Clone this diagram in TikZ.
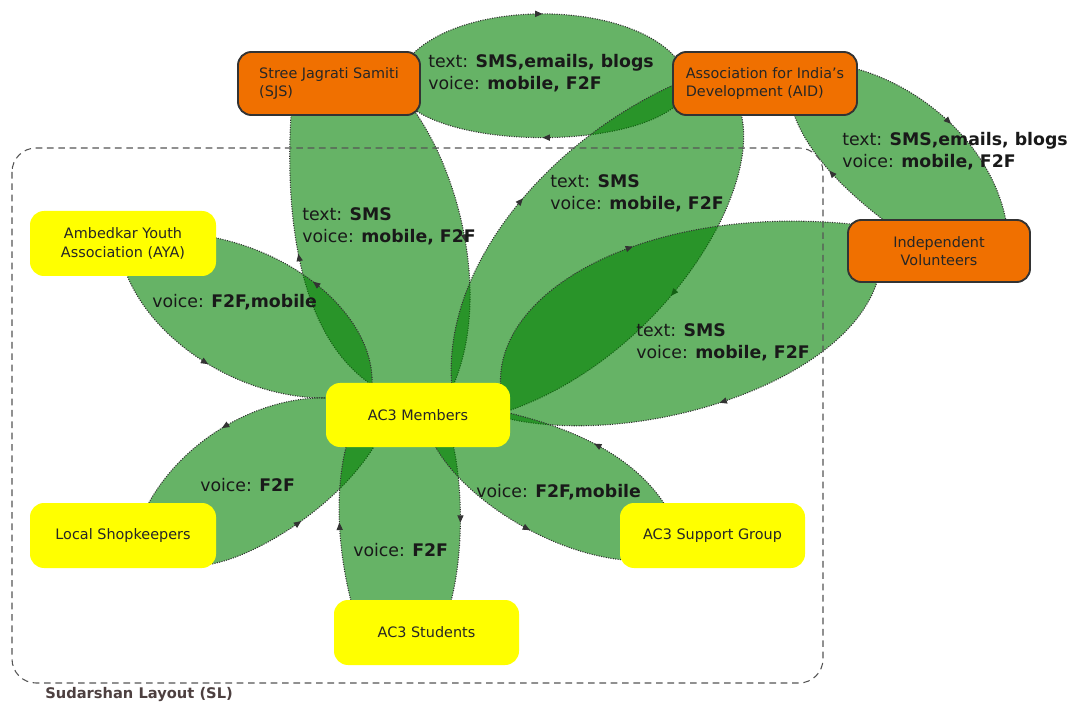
\documentclass[tikz,border=0pt]{standalone}
\usepackage{fontspec}
\setmainfont{DejaVu Sans}
\usetikzlibrary{calc,arrows.meta,decorations.markings}
\definecolor{orng}{HTML}{F07000}
\definecolor{yel}{HTML}{FFFF00}
\definecolor{petalgreen}{HTML}{008000}
\definecolor{edgec}{HTML}{333333}
\definecolor{framec}{HTML}{555555}
\definecolor{slc}{HTML}{4D4040}
\newcommand\boxtextfont{\fontsize{10.8}{14}\selectfont}
\newcommand\petaltextfont{\fontsize{13}{16.5}\selectfont}
\pgfdeclarelayer{bg}
\pgfsetlayers{bg,main}
\tikzset{
  orgbox/.style={draw=edgec, line width=1.4pt, fill=orng, rounded corners=10pt,
    inner sep=0pt, font=\boxtextfont, text=black!85},
  yelbox/.style={fill=yel, rounded corners=10.5pt, inner sep=0pt,
    font=\boxtextfont, text=black!85, align=center},
  petalfill/.style={fill=petalgreen, fill opacity=0.6},
  petaledge/.style={draw=edgec, line width=0.8pt, densely dotted,
    postaction={decorate},
    decoration={markings, mark=at position 0.5 with {\arrow{Triangle[length=5.5pt,width=4.6pt]}}}},
  lbl/.style={anchor=west, align=left, inner sep=0pt, font=\petaltextfont, text=black!90},
  frame/.style={draw=framec, line width=0.8pt, dash pattern=on 5pt off 3.5pt, rounded corners=18pt},
}
% petal: arc 1 (#1 -> #4, controls #2 #3), arc 2 (#5 -> #8, controls #6 #7)
\newcommand\petal[8]{%
  \fill[petalfill] #1 .. controls #2 and #3 .. #4 -- #5 .. controls #6 and #7 .. #8 -- cycle;
  \draw[petaledge] #1 .. controls #2 and #3 .. #4;
  \draw[petaledge] #5 .. controls #6 and #7 .. #8;
}
\begin{document}
\begin{tikzpicture}[x=0.75pt,y=-0.75pt]
\useasboundingbox (0,0) rectangle (1076,706);

% nodes
\node[orgbox, minimum width=136.5pt, minimum height=47.25pt, align=left] (sjs) at (329,83.5)
  {Stree Jagrati Samiti\\(SJS)};
\node[orgbox, minimum width=138pt, minimum height=47.25pt, align=left] (aid) at (765,83.5)
  {Association for India's\\Development (AID)};
\node[orgbox, minimum width=136.5pt, minimum height=46.5pt, align=center] (iv) at (939,251)
  {Independent\\Volunteers};
\node[yelbox, minimum width=139.5pt, minimum height=48.75pt] (aya) at (123,243.5)
  {Ambedkar Youth\\Association (AYA)};
\node[yelbox, minimum width=138pt, minimum height=48pt] (acm) at (418,415) {AC3 Members};
\node[yelbox, minimum width=139.5pt, minimum height=48.75pt] (ls) at (123,535.5) {Local Shopkeepers};
\node[yelbox, minimum width=138.75pt, minimum height=48.75pt] (sg) at (712.5,535.5) {AC3 Support Group};
\node[yelbox, minimum width=138.75pt, minimum height=48.75pt] (st) at (426.5,632.5) {AC3 Students};

\begin{pgfonlayer}{bg}
% SJS <-> AID
\petal{($(sjs)+(66,2)$)}{(415,-10)}{(670,-10)}{($(aid)+(-75,2)$)}
      {($(aid)+(-75,2)$)}{(670,155)}{(415,155)}{($(sjs)+(66,2)$)}
% SJS <-> AC3 Members
\petal{($(sjs)+(81,21.5)$)}{(460,170)}{(492,300)}{($(acm)+(34,-27)$)}
      {($(acm)+(-46,-30)$)}{(290,330)}{(285,190)}{($(sjs)+(-37,16.5)$)}
% AID <-> AC3 Members
\petal{($(aid)+(-25,26.5)$)}{(765,190)}{(660,360)}{($(acm)+(87,-3)$)}
      {($(acm)+(34,-27)$)}{(440,260)}{(560,130)}{($(aid)+(-75,-5.5)$)}
% AC3 Members <-> Independent Volunteers
\petal{($(acm)+(87,-5)$)}{(470,300)}{(640,200)}{($(iv)+(-79,-26)$)}
      {($(iv)+(-59,19)$)}{(860,380)}{(640,450)}{($(acm)+(87,3)$)}
% AID <-> Independent Volunteers
\petal{($(aid)+(75,-18.5)$)}{(920,80)}{(1000,150)}{($(iv)+(69,-16)$)}
      {($(iv)+(-49,-26)$)}{(850,195)}{(800,150)}{($(aid)+(25,16.5)$)}
% AYA <-> AC3 Members
\petal{($(aya)+(2,26.5)$)}{(150,340)}{(240,400)}{($(acm)+(-88,-17)$)}
      {($(acm)+(-46,-30)$)}{(375,320)}{(300,250)}{($(aya)+(77,-8.5)$)}
% AC3 Members <-> Local Shopkeepers
\petal{($(acm)+(-88,-17)$)}{(260,395)}{(180,440)}{($(ls)+(22,-25.5)$)}
      {($(ls)+(82,29.5)$)}{(250,560)}{(335,510)}{($(acm)+(-43,30)$)}
% AC3 Students <-> AC3 Members
\petal{($(st)+(-74.5,-27.5)$)}{(335,540)}{(336,480)}{($(acm)+(-70,25)$)}
      {($(acm)+(34,25)$)}{(462,480)}{(465,550)}{($(st)+(23.5,-27.5)$)}
% AC3 Members <-> AC3 Support Group
\petal{($(acm)+(14,25)$)}{(460,500)}{(570,570)}{($(sg)+(-52.5,24.5)$)}
      {($(sg)+(-47.5,-30.5)$)}{(630,450)}{(560,425)}{($(acm)+(87,-3)$)}
% group frame
\draw[frame] (12,148) rectangle (823,683);
\end{pgfonlayer}

% labels
\node[lbl] (lt) at (428,73) {text: \textbf{SMS,emails, blogs}\\voice: \textbf{mobile, F2F}};
\node[lbl] (ls1) at (302,226) {text: \textbf{SMS}\\voice: \textbf{mobile, F2F}};
\node[lbl] (la) at (550,193) {text: \textbf{SMS}\\voice: \textbf{mobile, F2F}};
\node[lbl] (lw) at (842,151.5) {text: \textbf{SMS,emails, blogs}\\voice: \textbf{mobile, F2F}};
\node[lbl] (lv) at (636,342) {text: \textbf{SMS}\\voice: \textbf{mobile, F2F}};
\node[lbl] (ly) at (152,302) {voice: \textbf{F2F,mobile}};
\node[lbl] (ll) at (200,485) {voice: \textbf{F2F}};
\node[lbl] (lg) at (476,492) {voice: \textbf{F2F,mobile}};
\node[lbl] (ld) at (353,550) {voice: \textbf{F2F}};
\node[anchor=west, inner sep=0pt, font=\bfseries\fontsize{11}{13}\selectfont, text=slc] (sl) at (45,695)
  {Sudarshan Layout (SL)};
\end{tikzpicture}
\end{document}
